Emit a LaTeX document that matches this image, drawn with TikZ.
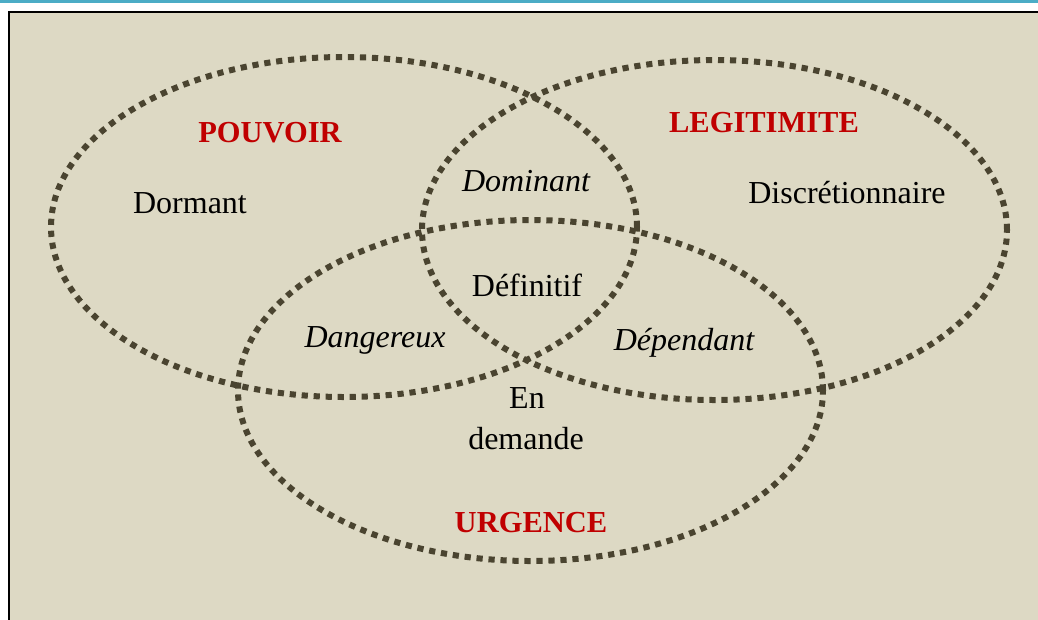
\documentclass[tikz,border=0pt]{standalone}
\usepackage{fontspec}
\setmainfont{Liberation Serif}
\definecolor{bgbeige}{HTML}{DDD9C4}
\definecolor{dotcol}{HTML}{4A4430}
\definecolor{topblue}{HTML}{4BACC6}
\definecolor{titlered}{HTML}{C00000}
\tikzset{
  setring/.style={draw=dotcol, line width=6pt, dash pattern=on 6.2pt off 5.8pt},
  settitle/.style={anchor=base, inner sep=0pt, text=titlered, font=\fontsize{30.5}{36}\selectfont\bfseries},
  setlabel/.style={anchor=base, inner sep=0pt, text=black, font=\fontsize{32}{38}\selectfont},
  setitlabel/.style={setlabel, font=\fontsize{32}{38}\selectfont\itshape},
}
\begin{document}
\begin{tikzpicture}[x=1pt,y=-1pt]
\useasboundingbox (0,0) rectangle (1038,619);
\fill[white] (0,0) rectangle (1038,619);
\fill[topblue] (0,0) rectangle (1038,2.5);
\fill[bgbeige] (8.5,12) rectangle (1045,630);
\draw[black, line width=2pt] (8.5,630) -- (8.5,12) -- (1045,12);
% ellipses
\draw[setring] (344,227) ellipse [x radius=293pt, y radius=170pt];
\draw[setring] (714.5,230) ellipse [x radius=292.5pt, y radius=170pt];
\draw[setring] (530.5,390.5) ellipse [x radius=292.5pt, y radius=170.5pt];
% titles
\node[settitle] (pouvoir) at (270,142) {POUVOIR};
\node[settitle] (legit) at (764,132) {LEGITIMITE};
\node[settitle] (urgence) at (531,532) {URGENCE};
% labels
\node[setlabel] (dormant) at (190,213) {Dormant};
\node[setlabel] (discr) at (847,203) {Discrétionnaire};
\node[setitlabel] (dominant) at (526,191) {Dominant};
\node[setlabel] (definitif) at (527,296) {Définitif};
\node[setitlabel] (dangereux) at (375,347) {Dangereux};
\node[setitlabel] (dependant) at (684,350) {Dépendant};
\node[setlabel] (en) at (527,408) {En};
\node[setlabel] (demande) at (526,449) {demande};
\end{tikzpicture}
\end{document}
